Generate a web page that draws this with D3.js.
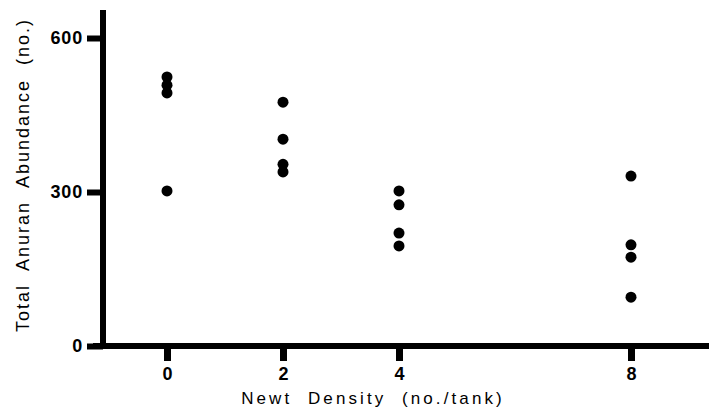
<!DOCTYPE html>
<html>
<head>
<meta charset="utf-8">
<script src="https://cdn.jsdelivr.net/npm/d3@7"></script>
<style>
  body { margin: 0; background: #fff; }
  svg { display: block; }
  text { font-family: "Liberation Sans", Arial, sans-serif; fill: #000; }
</style>
</head>
<body>
<svg id="chart"></svg>
<script>
const densities = [0, 2, 4, 8];
const tank0 = [524, 508, 493, 302];
const tank2 = [475, 403, 354, 339];
const tank4 = [302, 275, 220, 195];
const tank8 = [331, 197, 173, 95];
const yTicks = [0, 300, 600];
const xLabel = 'Newt  Density  (no./tank)';
const yLabel = 'Total  Anuran  Abundance  (no.)';

const width = 709;
const height = 415;

const points = [tank0, tank2, tank4, tank8].flatMap((vals, i) =>
  vals.map(v => ({ density: densities[i], value: v })));

const x = d3.scaleLinear().domain([0, 8]).range([167, 631]);
const y = d3.scaleLinear().domain([0, 600]).range([346, 38]);

const svg = d3.select('#chart')
  .attr('width', width)
  .attr('height', height);

// y axis
const yAxis = svg.append('g')
  .attr('transform', 'translate(103,0)')
  .call(d3.axisLeft(y).tickValues(yTicks).tickSize(16).tickPadding(4));
yAxis.select('.domain').remove();
yAxis.selectAll('.tick line').attr('stroke', '#000').attr('stroke-width', 6);
yAxis.selectAll('.tick text')
  .style('font-size', '18px').style('font-weight', 'bold')
  .style('letter-spacing', '0.8px');

// x axis
const xAxis = svg.append('g')
  .attr('transform', 'translate(0,346)')
  .call(d3.axisBottom(x).tickValues(densities).tickSize(15).tickPadding(6));
xAxis.select('.domain').remove();
xAxis.selectAll('.tick line').attr('stroke', '#000').attr('stroke-width', 7);
xAxis.selectAll('.tick text')
  .style('font-size', '18px').style('font-weight', 'bold');

// axis lines
svg.append('line')
  .attr('x1', 103).attr('x2', 103)
  .attr('y1', 10).attr('y2', 349)
  .attr('stroke', '#000').attr('stroke-width', 6);
svg.append('line')
  .attr('x1', 93).attr('x2', width)
  .attr('y1', 346).attr('y2', 346)
  .attr('stroke', '#000').attr('stroke-width', 6);

// points
svg.append('g').selectAll('circle')
  .data(points)
  .enter().append('circle')
  .attr('cx', d => x(d.density))
  .attr('cy', d => y(d.value))
  .attr('r', 5.5)
  .attr('fill', '#000');

// titles
svg.append('text')
  .attr('x', 373)
  .attr('y', 404)
  .attr('text-anchor', 'middle')
  .style('font-size', '17px')
  .style('letter-spacing', '3.1px')
  .style('white-space', 'pre')
  .text(xLabel);

svg.append('text')
  .attr('transform', 'translate(29,175) rotate(-90)')
  .attr('text-anchor', 'middle')
  .style('font-size', '18px')
  .style('letter-spacing', '2px')
  .style('white-space', 'pre')
  .text(yLabel);
</script>
</body>
</html>
